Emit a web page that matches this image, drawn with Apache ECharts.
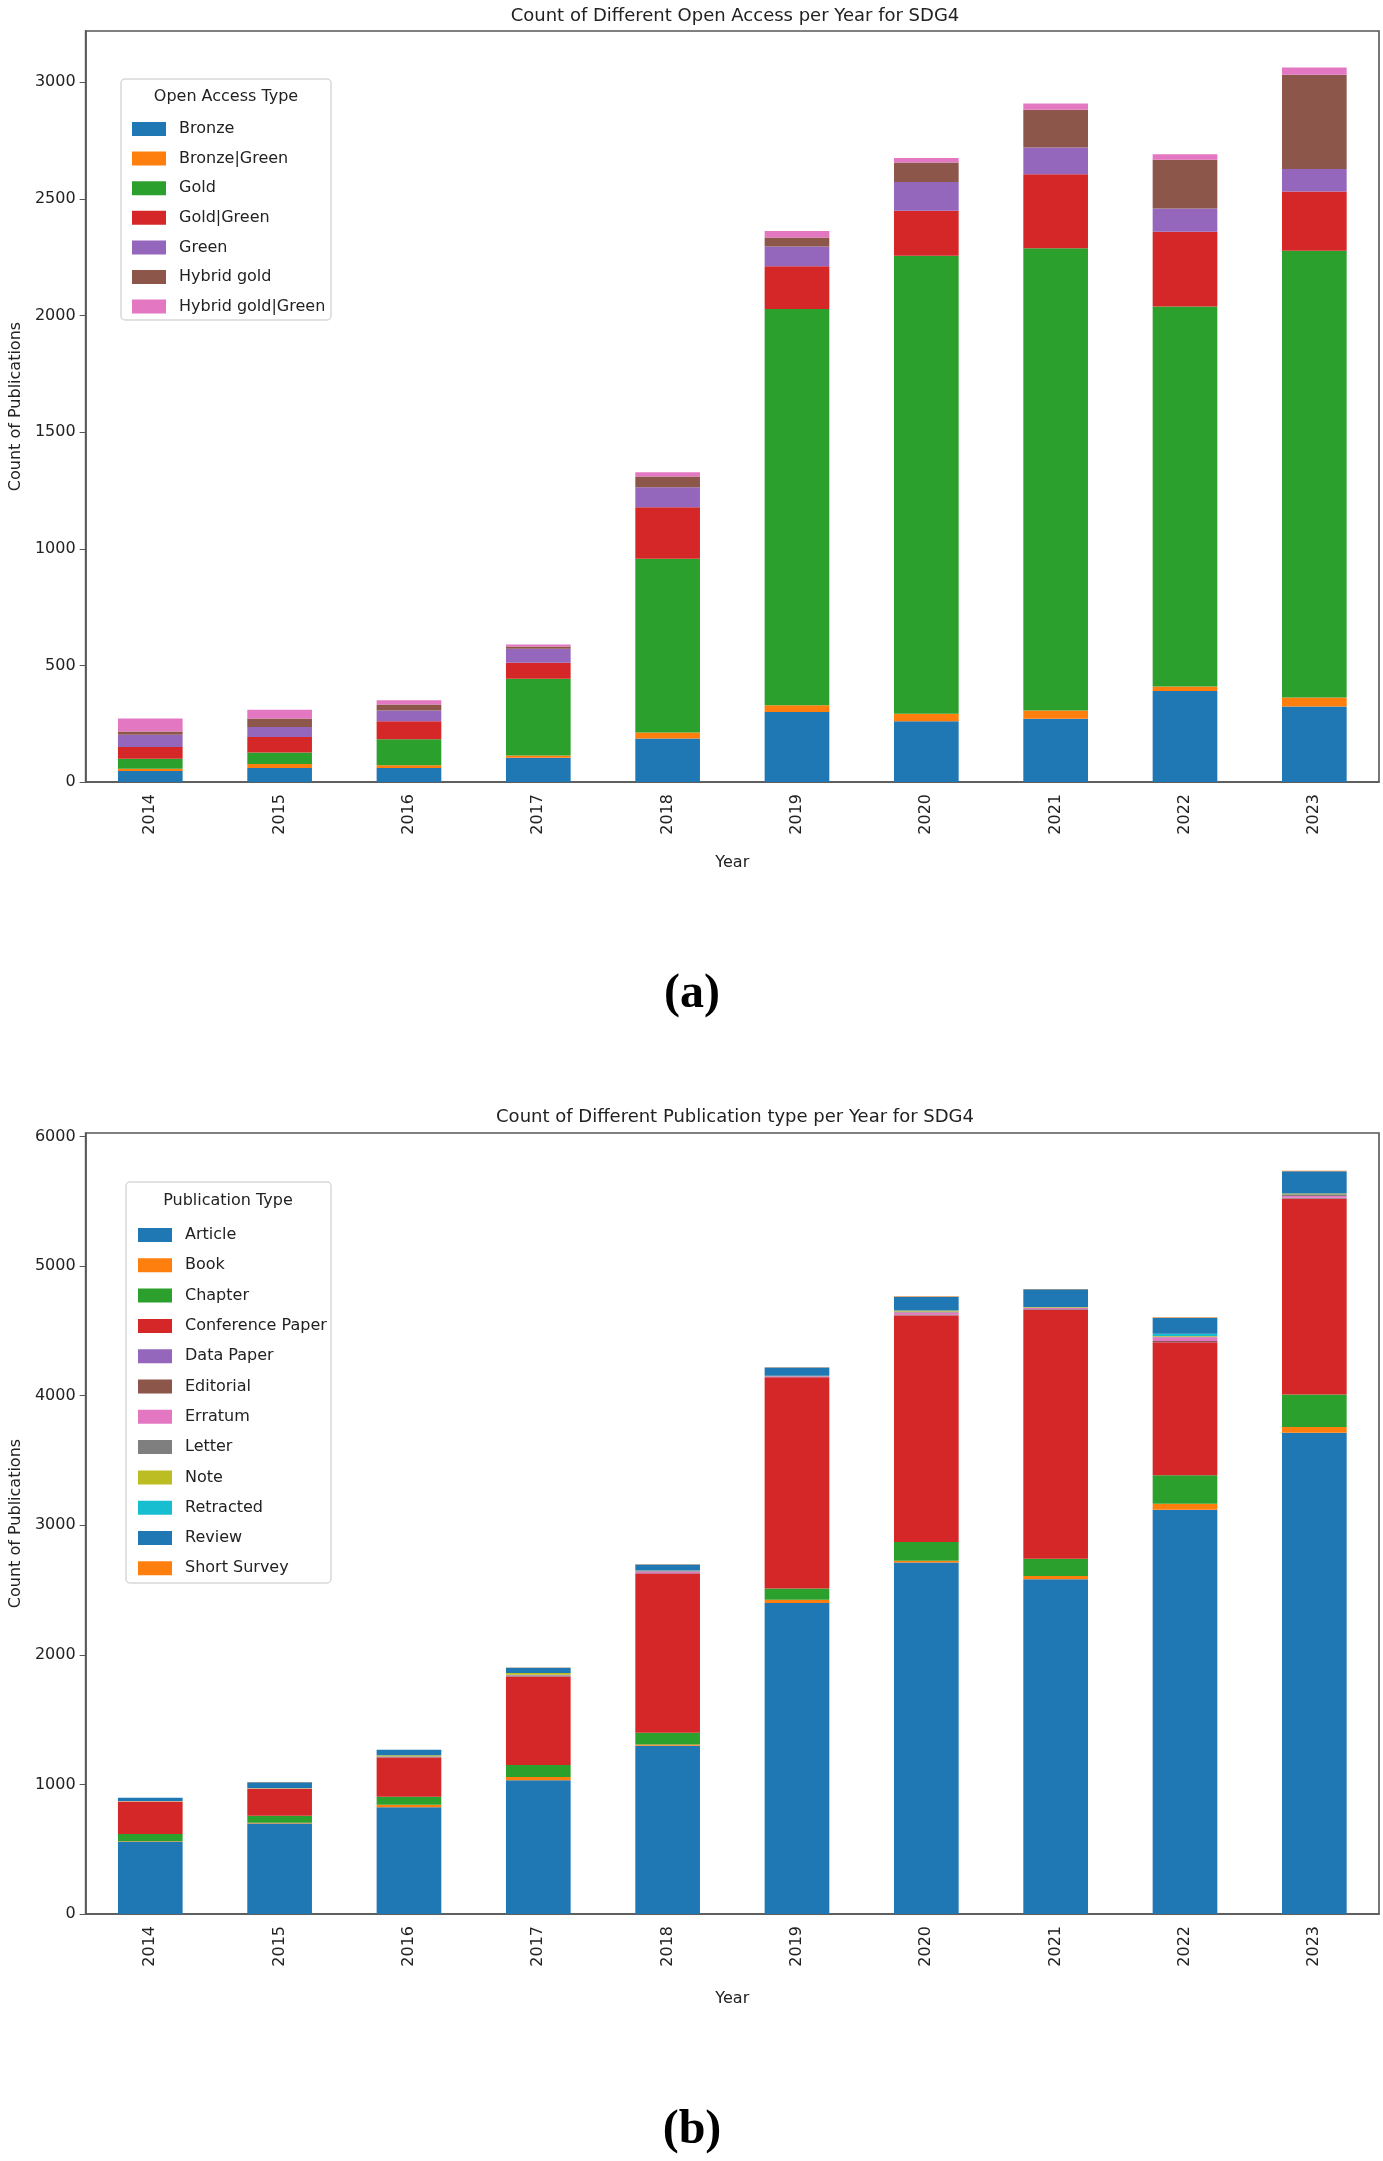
<!DOCTYPE html>
<html>
<head>
    <meta charset="utf-8">
    <title>SDG4 publications</title>
    <script src="https://cdn.jsdelivr.net/npm/echarts@6/dist/echarts.min.js"></script>
    <style>
        html, body { margin: 0; padding: 0; background: #fff; }
        #main { width: 1383px; height: 2161px; }
    </style>
</head>
<body>
<div id="main"></div>
<script>
    // years on the x axis (both charts)
    var years = ['2014', '2015', '2016', '2017', '2018', '2019', '2020', '2021', '2022', '2023'];

    // (a) open access type, stacked bottom to top
    var oaNames = ['Bronze', 'Bronze|Green', 'Gold', 'Gold|Green', 'Green', 'Hybrid gold', 'Hybrid gold|Green'];
    var bronze          = [47, 60, 60, 104, 187, 300, 261, 271, 390, 324];
    var bronzeGreen     = [10, 17, 12, 10, 25, 29, 32, 36, 20, 38];
    var gold            = [43, 49, 111, 329, 745, 1699, 1963, 1982, 1629, 1916];
    var goldGreen       = [50, 67, 78, 68, 221, 183, 193, 317, 320, 254];
    var green           = [53, 43, 46, 60, 86, 85, 124, 114, 100, 96];
    var hybridGold      = [14, 36, 25, 10, 46, 39, 83, 162, 209, 404];
    var hybridGoldGreen = [55, 38, 18, 9, 18, 28, 19, 27, 24, 31];
    var oaTicks = [0, 500, 1000, 1500, 2000, 2500, 3000];

    // (b) publication type, stacked bottom to top
    var ptNames = ['Article', 'Book', 'Chapter', 'Conference Paper', 'Data Paper', 'Editorial',
        'Erratum', 'Letter', 'Note', 'Retracted', 'Review', 'Short Survey'];
    var article     = [557, 699, 823, 1033, 1298, 2400, 2712, 2583, 3120, 3714];
    var book        = [5, 5, 20, 25, 10, 25, 15, 26, 45, 45];
    var chapter     = [55, 54, 61, 91, 90, 86, 143, 133, 220, 250];
    var conference  = [249, 206, 304, 681, 1229, 1632, 1748, 1920, 1027, 1509];
    var dataPaper   = [1, 1, 1, 2, 2, 1, 3, 2, 3, 3];
    var editorial   = [1, 2, 2, 4, 3, 2, 5, 4, 6, 6];
    var erratum     = [2, 2, 3, 5, 12, 3, 15, 8, 30, 14];
    var letter      = [1, 2, 3, 6, 4, 2, 8, 5, 6, 14];
    var note        = [1, 2, 8, 12, 3, 2, 8, 4, 4, 5];
    var retracted   = [0, 0, 0, 0, 0, 0, 0, 0, 16, 0];
    var review      = [25, 44, 42, 42, 46, 65, 107, 136, 125, 172];
    var shortSurvey = [1, 1, 1, 2, 2, 2, 3, 3, 3, 4];
    var ptTicks = [0, 1000, 2000, 3000, 4000, 5000, 6000];

    var tab10 = ['#1f77b4', '#ff7f0e', '#2ca02c', '#d62728', '#9467bd', '#8c564b',
        '#e377c2', '#7f7f7f', '#bcbd22', '#17becf', '#1f77b4', '#ff7f0e'];
    var font = 'DejaVu Sans';
    var spine = '#555';

    function makeSeries(names, arrays, idx) {
        return names.map(function (n, i) {
            return {
                name: n, type: 'bar', stack: 'chart' + idx,
                xAxisIndex: idx, yAxisIndex: idx,
                barWidth: '50%',
                data: arrays[i],
                itemStyle: { color: tab10[i] },
                emphasis: { disabled: true }
            };
        });
    }

    function xAxisFor(idx, gap) {
        return {
            type: 'category', gridIndex: idx, data: years,
            name: 'Year', nameLocation: 'middle', nameGap: gap,
            nameTextStyle: { fontFamily: font, fontSize: 16, color: '#222' },
            axisLine: { lineStyle: { color: spine, width: 1.6 } },
            axisTick: { alignWithLabel: true, length: 6, lineStyle: { color: spine } },
            axisLabel: { rotate: 90, margin: 12, fontFamily: font, fontSize: 16, color: '#222' }
        };
    }

    function yAxisFor(idx, max, ticks) {
        return {
            type: 'value', gridIndex: idx, min: 0, max: max,
            name: 'Count of Publications', nameLocation: 'middle', nameGap: 60,
            nameTextStyle: { fontFamily: font, fontSize: 16, color: '#222' },
            splitLine: { show: false },
            axisLine: { show: true, lineStyle: { color: spine, width: 1.6 } },
            axisTick: { show: true, length: 6, customValues: ticks, lineStyle: { color: spine } },
            axisLabel: {
                customValues: ticks, margin: 10, fontFamily: font, fontSize: 16, color: '#222',
                formatter: function (v) { return String(v); }
            }
        };
    }

    function legendFor(names, top, left, gap) {
        return {
            data: names, orient: 'vertical', left: left, top: top,
            itemWidth: 34, itemHeight: 14, itemGap: gap,
            icon: 'rect', selectedMode: false, z: 5,
            textStyle: { fontFamily: font, fontSize: 16, lineHeight: 16, color: '#222', padding: [0, 0, 0, 8] }
        };
    }

    var chart = echarts.init(document.getElementById('main'), null, { renderer: 'canvas' });

    var option = {
        backgroundColor: '#fff',
        animation: false,
        title: [
            { text: 'Count of Different Open Access per Year for SDG4', left: 730, top: 2, textAlign: 'center',
              textStyle: { fontFamily: font, fontSize: 18, fontWeight: 'normal', color: '#222' } },
            { text: 'Count of Different Publication type per Year for SDG4', left: 730, top: 1103, textAlign: 'center',
              textStyle: { fontFamily: font, fontSize: 18, fontWeight: 'normal', color: '#222' } }
        ],
        grid: [
            { left: 80, width: 1299, top: 31, height: 751, show: true, borderColor: spine, borderWidth: 1.6 },
            { left: 80, width: 1299, top: 1133, height: 781, show: true, borderColor: spine, borderWidth: 1.6 }
        ],
        xAxis: [xAxisFor(0, 73), xAxisFor(1, 77)],
        yAxis: [yAxisFor(0, 3220, oaTicks), yAxisFor(1, 6027, ptTicks)],
        legend: [
            legendFor(oaNames, 116, 127, 13.6),
            legendFor(ptNames, 1222, 133, 14.3)
        ],
        graphic: [
            { type: 'rect', shape: { x: 121, y: 79, width: 210, height: 241, r: 4 }, z: 1,
              style: { fill: 'rgba(255,255,255,0.8)', stroke: '#d8d8d8', lineWidth: 1.5 } },
            { type: 'text', x: 226, y: 97, z: 6,
              style: { text: 'Open Access Type', font: '16px "DejaVu Sans"', fill: '#222', align: 'center', verticalAlign: 'middle' } },
            { type: 'rect', shape: { x: 126, y: 1182, width: 205, height: 401, r: 4 }, z: 1,
              style: { fill: 'rgba(255,255,255,0.8)', stroke: '#d8d8d8', lineWidth: 1.5 } },
            { type: 'text', x: 228, y: 1201, z: 6,
              style: { text: 'Publication Type', font: '16px "DejaVu Sans"', fill: '#222', align: 'center', verticalAlign: 'middle' } },
            { type: 'text', x: 692, y: 995, z: 6,
              style: { text: '(a)', font: 'bold 48px "Liberation Serif"', fill: '#000', align: 'center', verticalAlign: 'middle' } },
            { type: 'text', x: 692, y: 2131, z: 6,
              style: { text: '(b)', font: 'bold 48px "Liberation Serif"', fill: '#000', align: 'center', verticalAlign: 'middle' } }
        ],
        series: makeSeries(oaNames,
                [bronze, bronzeGreen, gold, goldGreen, green, hybridGold, hybridGoldGreen], 0)
            .concat(makeSeries(ptNames,
                [article, book, chapter, conference, dataPaper, editorial, erratum, letter, note, retracted, review, shortSurvey], 1))
    };

    chart.setOption(option);
</script>
</body>
</html>
